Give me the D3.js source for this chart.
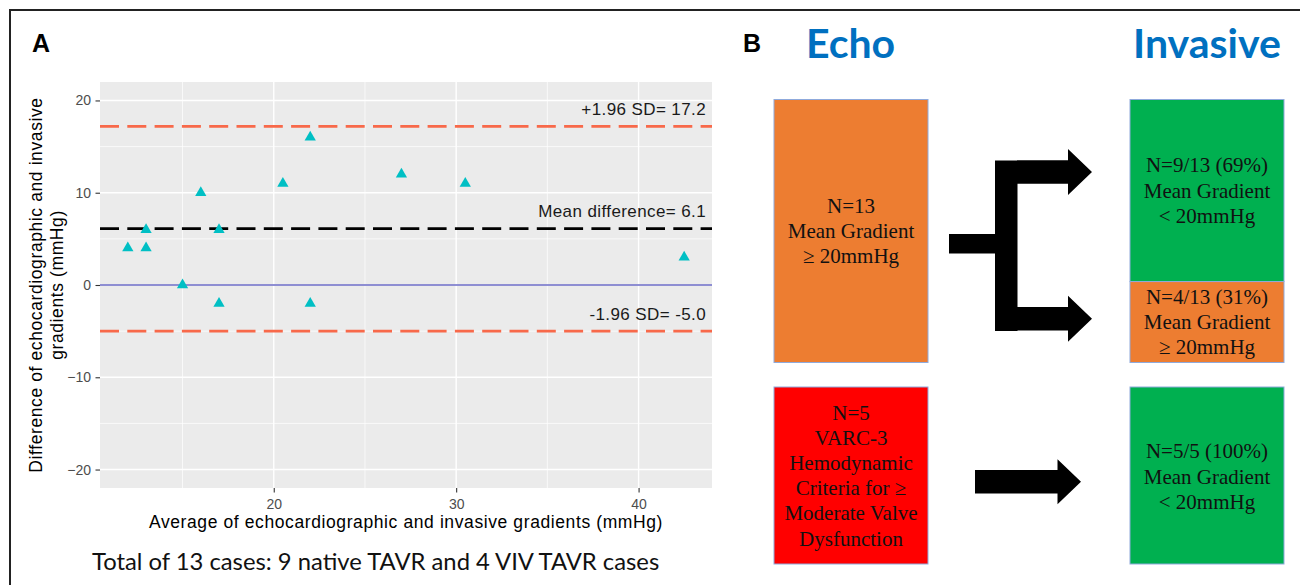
<!DOCTYPE html>
<html>
<head>
<meta charset="utf-8">
<script src="https://cdn.jsdelivr.net/npm/d3@7"></script>
<style>
  body { margin: 0; background: #fff; }
  svg { display: block; }
</style>
</head>
<body>
<div id="chart"></div>
<script>
// panel A: Bland-Altman values
const avgGradient = [12, 13, 13, 15, 16, 17, 17, 20.5, 22, 22, 27, 30.5, 42.5];
const diffGradient = [4, 6, 4, 0, 10, 6, -2, 11, 16, -2, 12, 11, 3];
const limitValues = [17.2, 6.1, -5.0];
const limitLabels = ['+1.96 SD= 17.2', 'Mean difference= 6.1', '-1.96 SD= -5.0'];
const xTicks = [20, 30, 40];
const xMinorTicks = [15, 25, 35];
const yTicks = [-20, -10, 0, 10, 20];
const yMinorTicks = [-15, -5, 5, 15];

// panel B: flow diagram text
const headers = ['Echo', 'Invasive'];
const echoHighLines = ['N=13', 'Mean Gradient', '\u2265 20mmHg'];
const invasiveCounts = [9, 4];
const invasiveLines = [
  ['N=9/13 (69%)', 'Mean Gradient', '< 20mmHg'],
  ['N=4/13 (31%)', 'Mean Gradient', '\u2265 20mmHg']
];
const varcLines = ['N=5', 'VARC-3', 'Hemodynamic', 'Criteria for \u2265', 'Moderate Valve', 'Dysfunction'];
const varcResultLines = ['N=5/5 (100%)', 'Mean Gradient', '< 20mmHg'];

const W = 1300, H = 585;
const sans = '"Liberation Sans", Arial, sans-serif';
const serif = '"Liberation Serif", "Times New Roman", serif';
const calibri = 'Lato, "Open Sans", sans-serif';

const svg = d3.select('#chart').append('svg')
  .attr('width', W)
  .attr('height', H);

svg.append('rect')
  .attr('width', W).attr('height', H)
  .attr('fill', '#fff');

// outer frame (right and bottom sides run off the picture)
svg.append('rect')
  .attr('x', 10).attr('y', 10)
  .attr('width', W + 20).attr('height', H + 20)
  .attr('fill', 'none')
  .attr('stroke', '#222')
  .attr('stroke-width', 2);

//---------------- panel A ----------------
const panel = {left: 100, right: 712, top: 82, bottom: 488};

const xExt = d3.extent(avgGradient);
const xPad = (xExt[1] - xExt[0]) * 0.05;
const x = d3.scaleLinear()
  .domain([xExt[0] - xPad, xExt[1] + xPad])
  .range([panel.left, panel.right]);

const y = d3.scaleLinear()
  .domain([-22, 22]) // ylim(-20, 20) plus ggplot expansion
  .range([panel.bottom, panel.top]);

const gA = svg.append('g').attr('class', 'panelA');

gA.append('rect')
  .attr('x', panel.left).attr('y', panel.top)
  .attr('width', panel.right - panel.left)
  .attr('height', panel.bottom - panel.top)
  .attr('fill', '#ebebeb');

// grid lines
gA.selectAll('.xminor').data(xMinorTicks).enter().append('line')
  .attr('x1', d => x(d)).attr('x2', d => x(d))
  .attr('y1', panel.top).attr('y2', panel.bottom)
  .attr('stroke', '#fff').attr('stroke-width', 0.7);
gA.selectAll('.yminor').data(yMinorTicks).enter().append('line')
  .attr('y1', d => y(d)).attr('y2', d => y(d))
  .attr('x1', panel.left).attr('x2', panel.right)
  .attr('stroke', '#fff').attr('stroke-width', 0.7);
gA.selectAll('.xmajor').data(xTicks).enter().append('line')
  .attr('x1', d => x(d)).attr('x2', d => x(d))
  .attr('y1', panel.top).attr('y2', panel.bottom)
  .attr('stroke', '#fff').attr('stroke-width', 1.4);
gA.selectAll('.ymajor').data(yTicks).enter().append('line')
  .attr('y1', d => y(d)).attr('y2', d => y(d))
  .attr('x1', panel.left).attr('x2', panel.right)
  .attr('stroke', '#fff').attr('stroke-width', 1.4);

// zero line
gA.append('line')
  .attr('x1', panel.left).attr('x2', panel.right)
  .attr('y1', y(0)).attr('y2', y(0))
  .attr('stroke', '#6a6ac4')
  .attr('stroke-width', 1.6);

// mean and limits of agreement
const limitColors = ['#f8694a', '#000', '#f8694a'];
gA.selectAll('.limit').data(limitValues).enter().append('line')
  .attr('x1', panel.left).attr('x2', panel.right)
  .attr('y1', d => y(d)).attr('y2', d => y(d))
  .attr('stroke', (d, i) => limitColors[i])
  .attr('stroke-width', 2.7)
  .attr('stroke-dasharray', '19,8.3');

gA.selectAll('.limitLabel').data(limitValues).enter().append('text')
  .attr('x', x(43.7))
  .attr('y', d => y(d) - 11.5)
  .attr('text-anchor', 'end')
  .style('font-family', sans)
  .style('font-size', '17px')
  .style('letter-spacing', '0.4px')
  .style('fill', '#1a1a1a')
  .text((d, i) => limitLabels[i]);

// points
const tri = d3.symbol().type(d3.symbolTriangle).size(55);
gA.selectAll('.pt').data(avgGradient).enter().append('path')
  .attr('d', tri)
  .attr('transform', (d, i) => `translate(${x(d)},${y(diffGradient[i])})`)
  .attr('fill', '#00bfc4');

// axes
const yAxis = d3.axisLeft(y).tickValues(yTicks).tickSize(4.5).tickPadding(4.5);
const xAxis = d3.axisBottom(x).tickValues(xTicks).tickSize(4.5).tickPadding(7);

const yg = gA.append('g')
  .attr('transform', `translate(${panel.left},0)`)
  .call(yAxis);
const xg = gA.append('g')
  .attr('transform', `translate(0,${panel.bottom})`)
  .call(xAxis);

[yg, xg].forEach(g => {
  g.select('.domain').remove();
  g.selectAll('line').attr('stroke', '#333').attr('stroke-width', 1.1);
  g.selectAll('text')
    .style('font-family', sans)
    .style('font-size', '14px')
    .style('fill', '#4d4d4d');
});

gA.append('text')
  .attr('x', (panel.left + panel.right) / 2)
  .attr('y', 528)
  .attr('text-anchor', 'middle')
  .style('font-family', sans)
  .style('font-size', '17.5px')
  .style('letter-spacing', '0.6px')
  .style('fill', '#000')
  .text('Average of echocardiographic and invasive gradients (mmHg)');

const yTitle = gA.append('text')
  .attr('transform', `translate(0,${(panel.top + panel.bottom) / 2}) rotate(-90)`)
  .attr('text-anchor', 'middle')
  .style('font-family', sans)
  .style('font-size', '17.5px')
  .style('letter-spacing', '0.6px')
  .style('fill', '#000');
yTitle.append('tspan').attr('x', 0).attr('y', 42)
  .text('Difference of echocardiographic and invasive');
yTitle.append('tspan').attr('x', 0).attr('y', 63)
  .text('gradients (mmHg)');

svg.append('text')
  .attr('x', 32).attr('y', 52)
  .style('font-family', sans)
  .style('font-weight', 'bold')
  .style('font-size', '25px')
  .text('A');

svg.append('text')
  .attr('x', 92).attr('y', 570)
  .style('font-family', calibri)
  .style('font-size', '23.8px')
  .style('fill', '#111')
  .text('Total of 13 cases: 9 native TAVR and 4 VIV TAVR cases');

//---------------- panel B ----------------
const gB = svg.append('g').attr('class', 'panelB');

svg.append('text')
  .attr('x', 743).attr('y', 52)
  .style('font-family', sans)
  .style('font-weight', 'bold')
  .style('font-size', '25px')
  .text('B');

const colX = [774, 1130];
const boxW = 154;
const orange = '#ed7d31', green = '#00b050', red = '#ff0000';

gB.selectAll('.header').data(headers).enter().append('text')
  .attr('x', (d, i) => colX[i] + boxW / 2 + (i === 0 ? -0.5 : 0))
  .attr('y', 58)
  .attr('text-anchor', 'middle')
  .style('font-family', calibri)
  .style('font-weight', 'bold')
  .style('font-size', '41px')
  .style('fill', '#0070c0')
  .text(d => d);

function box(x0, y0, w, h, fill) {
  gB.append('rect')
    .attr('x', x0).attr('y', y0)
    .attr('width', w).attr('height', h)
    .attr('fill', fill)
    .attr('stroke', '#8faadc')
    .attr('stroke-width', 1);
}

function lines(cx, cy, arr) {
  const lh = 25.2;
  const t = gB.append('text')
    .attr('text-anchor', 'middle')
    .style('font-family', serif)
    .style('font-size', '21px')
    .style('fill', '#111');
  arr.forEach((s, i) => {
    t.append('tspan')
      .attr('x', cx)
      .attr('y', cy + (i - (arr.length - 1) / 2) * lh + 7)
      .text(s);
  });
}

// top row
const topRow = [99.5, 362.5];
box(colX[0], topRow[0], boxW, topRow[1] - topRow[0], orange);
lines(colX[0] + boxW / 2, (topRow[0] + topRow[1]) / 2, echoHighLines);

const split = d3.scaleLinear()
  .domain([0, d3.sum(invasiveCounts)])
  .range(topRow);
let acc = 0;
invasiveCounts.forEach((c, i) => {
  const y0 = split(acc), y1 = split(acc + c);
  acc += c;
  box(colX[1], y0, boxW, y1 - y0, i === 0 ? green : orange);
  lines(colX[1] + boxW / 2, (y0 + y1) / 2, invasiveLines[i]);
});

// bottom row
const botRow = [387, 564];
box(colX[0], botRow[0], boxW, botRow[1] - botRow[0], red);
lines(colX[0] + boxW / 2, (botRow[0] + botRow[1]) / 2, varcLines);
box(colX[1], botRow[0], boxW, botRow[1] - botRow[0], green);
lines(colX[1] + boxW / 2, (botRow[0] + botRow[1]) / 2 + 1, varcResultLines);

// arrows
function arrowHead(p, xs, yc, half, len) {
  p.moveTo(xs, yc - half);
  p.lineTo(xs + len, yc);
  p.lineTo(xs, yc + half);
  p.closePath();
}

const shaft = 23.5, headHalf = 23, headLen = 24;
const branch = d3.path();
// stub from echo box
branch.rect(949, 234, 46, 19.5);
// vertical bar
branch.rect(995, 160.5, 22.5, 170.5);
// upper and lower shafts + heads
[172, 318.7].forEach(yc => {
  branch.rect(1017, yc - shaft / 2, 51, shaft);
  arrowHead(branch, 1068, yc, headHalf, headLen);
});
gB.append('path').attr('d', branch.toString()).attr('fill', '#000');

const straight = d3.path();
straight.rect(975, 481.7 - shaft / 2, 83, shaft);
arrowHead(straight, 1057.5, 481.7, 22.5, 23.5);
gB.append('path').attr('d', straight.toString()).attr('fill', '#000');
</script>
</body>
</html>
